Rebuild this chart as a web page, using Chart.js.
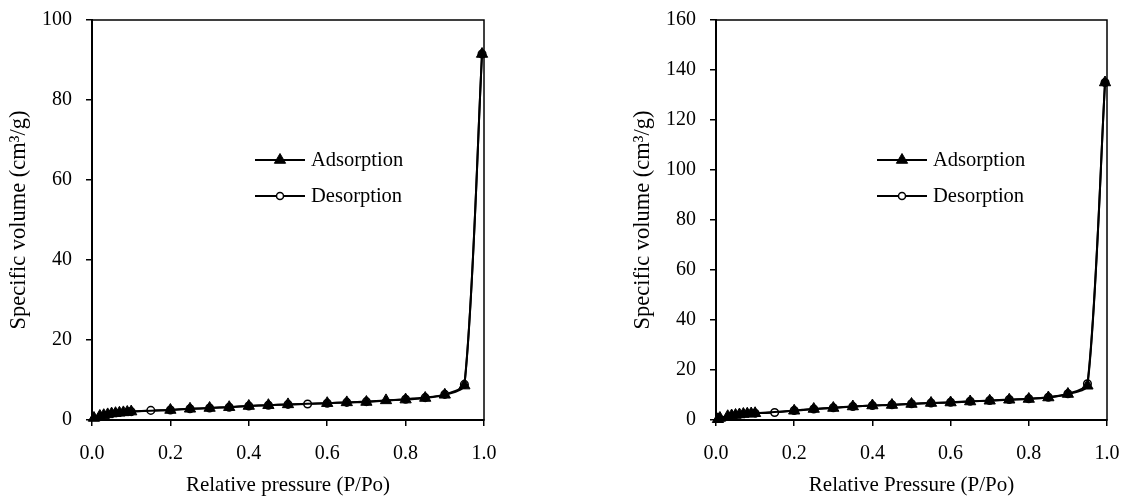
<!DOCTYPE html>
<html>
<head>
<meta charset="utf-8">
<script src="https://cdn.jsdelivr.net/npm/chart.js@4.4.1/dist/chart.umd.min.js"></script>
<style>
  html, body { margin: 0; padding: 0; background: #fff; }
  #wrap { position: relative; width: 1122px; height: 496px; overflow: hidden; }
  canvas { position: absolute; top: 0; }
</style>
</head>
<body>
<div id="wrap">
  <canvas id="leftChart" width="561" height="496" style="left:0"></canvas>
  <canvas id="rightChart" width="498" height="496" style="left:624px"></canvas>
</div>
<script>
// left sample
const leftAdsX = [0.005, 0.02, 0.03, 0.04, 0.05, 0.06, 0.07, 0.08, 0.09, 0.1, 0.2, 0.25, 0.3, 0.35, 0.4, 0.45, 0.5, 0.6, 0.65, 0.7, 0.75, 0.8, 0.85, 0.9, 0.95, 0.995];
const leftAdsY = [0.5, 1.0, 1.2, 1.4, 1.6, 1.7, 1.8, 1.9, 2.0, 2.1, 2.5, 2.8, 3.0, 3.2, 3.5, 3.7, 3.9, 4.2, 4.4, 4.5, 4.9, 5.1, 5.5, 6.3, 8.6, 91.5];
const leftDesX = [0.995, 0.95, 0.9, 0.85, 0.8, 0.7, 0.65, 0.6, 0.55, 0.5, 0.45, 0.4, 0.35, 0.3, 0.25, 0.2, 0.15, 0.1];
const leftDesY = [91.5, 8.9, 6.4, 5.6, 5.2, 4.6, 4.4, 4.2, 4.0, 3.9, 3.7, 3.5, 3.2, 3.0, 2.8, 2.5, 2.4, 2.1];

// right sample
const rightAdsX = [0.005, 0.01, 0.03, 0.04, 0.05, 0.06, 0.07, 0.08, 0.09, 0.1, 0.2, 0.25, 0.3, 0.35, 0.4, 0.45, 0.5, 0.55, 0.6, 0.65, 0.7, 0.75, 0.8, 0.85, 0.9, 0.95, 0.995];
const rightAdsY = [0.3, 0.8, 1.5, 1.8, 2.0, 2.2, 2.4, 2.5, 2.6, 2.7, 3.7, 4.4, 4.8, 5.4, 5.8, 6.0, 6.4, 6.8, 7.0, 7.4, 7.7, 8.1, 8.4, 9.0, 10.4, 13.7, 135];
const rightDesX = [0.995, 0.95, 0.9, 0.85, 0.8, 0.75, 0.7, 0.65, 0.6, 0.55, 0.5, 0.45, 0.4, 0.35, 0.3, 0.25, 0.2, 0.15, 0.1];
const rightDesY = [135, 14.5, 10.5, 9.1, 8.5, 8.2, 7.8, 7.5, 7.1, 6.8, 6.5, 6.1, 5.8, 5.4, 4.9, 4.4, 3.8, 3.0, 2.7];

const seriesNames = ['Adsorption', 'Desorption'];
const xTicks = [0, 0.2, 0.4, 0.6, 0.8, 1.0];

const FONT = 'Liberation Serif, "Times New Roman", serif';

const toPoints = (xs, ys) => xs.map((x, i) => ({ x: x, y: ys[i] }));

// legend drawn inside the plot: line sample with the marker in the middle
const insideLegend = {
  id: 'insideLegend',
  afterDraw(chart, args, opts) {
    const ctx = chart.ctx;
    ctx.save();
    chart.data.datasets.forEach((ds, i) => {
      const y = opts.y + i * opts.gap;
      ctx.strokeStyle = '#000';
      ctx.lineWidth = 2;
      ctx.beginPath();
      ctx.moveTo(opts.x, y);
      ctx.lineTo(opts.x + 50, y);
      ctx.stroke();
      ctx.fillStyle = ds.pointBackgroundColor;
      ctx.strokeStyle = '#000';
      ctx.lineWidth = ds.pointBorderWidth;
      Chart.helpers.drawPoint(ctx, {
        pointStyle: ds.pointStyle,
        radius: ds.pointStyle === 'circle' ? 3.5 : 6.5,
        borderWidth: ds.pointBorderWidth,
      }, opts.x + 25, y);
      ctx.fillStyle = '#000';
      ctx.font = '20.5px ' + FONT;
      ctx.textBaseline = 'middle';
      ctx.fillText(ds.label, opts.x + 56, y + 1);
    });
    ctx.restore();
  },
};

// box round the plot area
const frame = {
  id: 'frame',
  beforeDatasetsDraw(chart) {
    const a = chart.chartArea;
    const ctx = chart.ctx;
    ctx.save();
    ctx.strokeStyle = '#000';
    ctx.lineWidth = 1.5;
    ctx.strokeRect(a.left, a.top, a.right - a.left, a.bottom - a.top);
    ctx.restore();
  },
};

function makeChart(id, ads, des, yMax, yTitle, xTitle, padRight, legendX) {
  return new Chart(document.getElementById(id), {
    type: 'scatter',
    data: {
      datasets: [
        {
          label: seriesNames[0],
          data: ads,
          showLine: true,
          clip: false,
          borderColor: '#000',
          borderWidth: 2,
          tension: 0.25,
          pointStyle: 'triangle',
          pointRadius: 6.5,
          pointBorderColor: '#000',
          pointBorderWidth: 1,
          backgroundColor: '#000',
          pointBackgroundColor: '#000',
        },
        {
          label: seriesNames[1],
          data: des,
          showLine: true,
          clip: false,
          borderColor: '#000',
          borderWidth: 2,
          tension: 0.25,
          pointStyle: 'circle',
          pointRadius: 3.8,
          pointBorderColor: '#000',
          pointBorderWidth: 1.5,
          backgroundColor: '#fff',
          pointBackgroundColor: '#fff',
        },
      ],
    },
    options: {
      responsive: false,
      animation: false,
      layout: { padding: { left: 0, top: 20, right: padRight, bottom: 0 } },
      plugins: {
        legend: { display: false },
        tooltip: { enabled: false },
        insideLegend: { x: legendX, y: 160, gap: 36 },
      },
      scales: {
        x: {
          type: 'linear',
          min: 0,
          max: 1,
          afterBuildTicks: (scale) => { scale.ticks = xTicks.map((v) => ({ value: v })); },
          afterFit: (scale) => { scale.height = 76; scale.paddingLeft = 0; scale.paddingRight = 0; },
          grid: { drawOnChartArea: false, drawTicks: true, tickLength: 6, color: '#000', lineWidth: 1.5 },
          border: { display: true, color: '#000', width: 2 },
          ticks: { color: '#000', padding: 16, font: { family: FONT, size: 20 }, callback: (v) => v.toFixed(1) },
          title: { display: true, text: xTitle, color: '#000', font: { family: FONT, size: 21, lineHeight: 1 }, padding: { top: 0, bottom: 0 } },
        },
        y: {
          min: 0,
          max: yMax,
          afterFit: (scale) => { scale.width = 92; scale.paddingTop = 0; scale.paddingBottom = 0; },
          grid: { drawOnChartArea: false, drawTicks: true, tickLength: 6, color: '#000', lineWidth: 1.5 },
          border: { display: true, color: '#000', width: 2 },
          ticks: { color: '#000', padding: 14, stepSize: 20, font: { family: FONT, size: 20 } },
          title: { display: true, text: yTitle, color: '#000', font: { family: FONT, size: 22.5, lineHeight: 1 }, padding: { top: 8, bottom: 0 } },
        },
      },
    },
    plugins: [insideLegend, frame],
  });
}

makeChart('leftChart', toPoints(leftAdsX, leftAdsY), toPoints(leftDesX, leftDesY), 100,
  'Specific volume (cm³/g)', 'Relative pressure (P/Po)', 77, 255);
makeChart('rightChart', toPoints(rightAdsX, rightAdsY), toPoints(rightDesX, rightDesY), 160,
  'Specific volume (cm³/g)', 'Relative Pressure (P/Po)', 15, 877 - 624);
</script>
</body>
</html>
